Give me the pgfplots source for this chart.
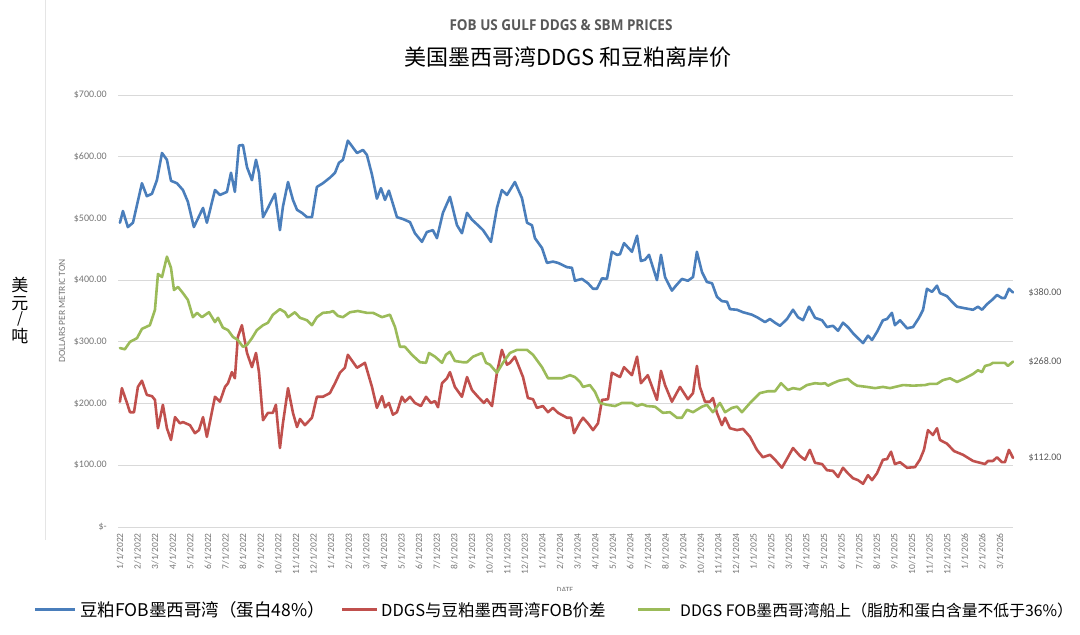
\documentclass[border=0pt]{standalone}
\usepackage{pgfplots}
\pgfplotsset{compat=1.18}
\usepackage{fontspec}
\setmainfont{Carlito}
\newfontfamily\cjk{Noto Sans CJK SC}
\newfontfamily\ttlfont{Open Sans}

\definecolor{sbmblue}{RGB}{74,126,187}
\definecolor{sprdred}{RGB}{192,80,77}
\definecolor{ddgsgreen}{RGB}{155,187,89}
\definecolor{tickgray}{RGB}{118,118,118}
\definecolor{titlegray}{RGB}{89,89,89}

\begin{document}
\begin{tikzpicture}[x=1pt,y=1pt]
\path[use as bounding box] (0,0) rectangle (1080,635);
\draw[black!10, line width=0.8pt] (45,95) -- (45,635);

\node[font=\ttlfont\bfseries\fontsize{15}{18}\selectfont, text=titlegray, xscale=0.9] at (561,610) {FOB US GULF DDGS \& SBM PRICES};
\node[font=\cjk\fontsize{22}{26}\selectfont] at (568,578) {美国墨西哥湾DDGS 和豆粕离岸价};

% vertical unit label
\node[font=\cjk\fontsize{17}{20}\selectfont, inner sep=0pt] at (20,350) {美};
\node[font=\cjk\fontsize{17}{20}\selectfont, inner sep=0pt] at (20,331) {元};
\node[font=\cjk\fontsize{15}{18}\selectfont, inner sep=0pt] at (20,316) {/};
\node[font=\cjk\fontsize{17}{20}\selectfont, inner sep=0pt] at (20,299) {吨};
\node[rotate=90, font=\fontsize{9.5}{11}\selectfont, text=tickgray] at (62,324) {DOLLARS PER METRIC TON};

\begin{scope}
\clip (500,44) rectangle (620,60);
\node[font=\fontsize{8}{9}\selectfont, text=tickgray] at (565,45) {DATE};
\end{scope}

\begin{axis}[
  at={(118pt,108pt)}, anchor=south west,
  scale only axis, width=895pt, height=432pt,
  xmin=-0.11, xmax=50.74, ymin=0, ymax=700,
  axis line style={draw=none},
  major tick length=0pt,
  ymajorgrids, grid style={draw=black!15, line width=0.8pt},
  ytick={0,100,...,700},
  yticklabels={\$-,\$100.00,\$200.00,\$300.00,\$400.00,\$500.00,\$600.00,\$700.00},
  yticklabel style={font=\fontsize{10}{12}\selectfont, text=tickgray, inner xsep=11pt, inner ysep=0pt},
  xtick={0,...,50},
  xticklabels={1/1/2022,2/1/2022,3/1/2022,4/1/2022,5/1/2022,6/1/2022,7/1/2022,8/1/2022,9/1/2022,10/1/2022,11/1/2022,12/1/2022,
    1/1/2023,2/1/2023,3/1/2023,4/1/2023,5/1/2023,6/1/2023,7/1/2023,8/1/2023,9/1/2023,10/1/2023,11/1/2023,12/1/2023,
    1/1/2024,2/1/2024,3/1/2024,4/1/2024,5/1/2024,6/1/2024,7/1/2024,8/1/2024,9/1/2024,10/1/2024,11/1/2024,12/1/2024,
    1/1/2025,2/1/2025,3/1/2025,4/1/2025,5/1/2025,6/1/2025,7/1/2025,8/1/2025,9/1/2025,10/1/2025,11/1/2025,12/1/2025,
    1/1/2026,2/1/2026,3/1/2026},
  xticklabel style={rotate=90, anchor=east, font=\fontsize{9.5}{11}\selectfont, text=tickgray, inner xsep=6pt, inner ysep=0pt},
  clip=false,
  every axis plot/.append style={line width=2.6pt, line join=round, line cap=round},
]
% SBM FOB US Gulf
\addplot[sbmblue] table {
0 493
0.17 512
0.45 486
0.74 493
1.25 557
1.53 536
1.82 540
2.10 562
2.39 606
2.67 595
2.90 561
3.24 557
3.58 546
3.86 527
4.20 486
4.72 517
4.94 493
5.40 546
5.68 538
6.08 543
6.31 574
6.53 543
6.76 618
6.99 619
7.22 583
7.50 562
7.73 595
7.90 574
8.13 502
8.41 517
8.81 540
9.09 481
9.26 519
9.55 559
9.83 530
10.06 514
10.34 509
10.63 502
10.91 502
11.19 551
11.53 557
11.93 566
12.22 574
12.44 590
12.67 595
12.95 626
13.47 606
13.81 611
14.03 603
14.32 571
14.60 532
14.83 549
15.06 530
15.28 545
15.74 502
16.08 499
16.48 494
16.76 476
17.16 462
17.44 478
17.78 481
18.01 468
18.35 509
18.75 535
19.15 489
19.43 476
19.72 509
20.00 498
20.34 489
20.63 481
21.08 462
21.42 517
21.70 546
21.99 538
22.44 559
22.84 533
23.13 493
23.41 489
23.58 468
23.98 452
24.26 428
24.60 430
24.89 428
25.40 421
25.68 420
25.85 399
26.25 402
26.59 395
26.88 386
27.10 386
27.39 403
27.67 402
27.95 446
28.24 441
28.41 442
28.64 460
29.09 446
29.38 472
29.60 431
29.83 433
30.06 441
30.51 400
30.74 441
30.97 405
31.36 383
31.59 391
31.93 402
32.27 399
32.56 405
32.78 446
33.07 413
33.35 397
33.64 395
33.92 373
34.20 366
34.49 365
34.66 353
35.06 352
35.40 348
35.91 344
36.25 339
36.65 332
36.93 337
37.22 331
37.50 326
37.90 337
38.24 352
38.52 340
38.81 335
39.15 357
39.49 339
39.89 335
40.17 324
40.51 326
40.80 318
41.08 331
41.36 324
41.65 314
41.93 306
42.22 298
42.50 310
42.73 303
43.01 316
43.35 335
43.58 337
43.86 347
44.03 327
44.32 335
44.72 322
45.06 324
45.40 339
45.63 352
45.85 386
46.14 381
46.42 391
46.59 379
46.99 374
47.27 365
47.56 357
47.90 355
48.47 352
48.75 357
48.98 352
49.26 361
49.55 368
49.83 376
50.11 371
50.28 371
50.51 386
50.74 380
};
% DDGS - SBM spread
\addplot[sprdred] table {
0 203
0.11 225
0.40 201
0.57 186
0.80 186
1.02 227
1.25 237
1.53 214
1.82 212
1.99 206
2.16 160
2.44 198
2.67 160
2.90 141
3.13 178
3.41 168
3.58 170
3.98 165
4.26 152
4.49 157
4.72 178
4.94 146
5.40 211
5.68 203
5.97 227
6.14 233
6.36 251
6.53 241
6.70 308
6.93 327
7.22 282
7.50 259
7.73 282
7.90 251
8.13 173
8.41 185
8.69 185
8.86 198
9.09 128
9.26 168
9.55 225
9.83 185
10.06 162
10.23 175
10.51 165
10.91 177
11.19 211
11.53 211
11.93 217
12.22 233
12.50 250
12.78 258
12.95 279
13.47 258
13.92 266
14.32 227
14.60 193
14.89 212
15.06 194
15.28 201
15.51 182
15.74 186
16.02 211
16.19 203
16.48 211
16.76 201
17.10 196
17.39 211
17.67 201
17.90 204
18.07 194
18.30 233
18.58 241
18.75 251
19.03 227
19.43 211
19.72 243
20.00 222
20.34 211
20.68 201
20.85 207
21.14 196
21.42 250
21.70 287
21.99 263
22.16 266
22.44 276
22.90 243
23.18 209
23.47 207
23.69 193
24.03 196
24.32 186
24.60 193
24.89 185
25.40 177
25.63 177
25.80 152
26.14 170
26.31 177
26.59 168
26.88 157
27.16 168
27.39 206
27.73 207
27.95 250
28.41 243
28.64 259
29.09 246
29.38 276
29.60 233
29.99 246
30.51 206
30.74 253
30.97 230
31.36 203
31.82 227
32.27 207
32.56 217
32.78 261
32.95 227
33.24 203
33.52 203
33.69 209
33.92 185
34.20 165
34.38 177
34.66 160
35.06 157
35.40 159
35.80 146
36.19 125
36.53 113
36.93 117
37.22 109
37.61 96
37.95 113
38.24 128
38.64 115
38.92 109
39.20 125
39.49 104
39.89 102
40.17 92
40.51 91
40.80 81
41.08 96
41.36 87
41.65 79
41.93 76
42.22 70
42.50 84
42.73 76
43.01 87
43.35 109
43.58 110
43.81 122
44.03 102
44.32 105
44.72 96
45.17 97
45.45 109
45.68 125
45.91 157
46.19 149
46.42 160
46.59 141
46.99 135
47.39 123
47.90 117
48.47 107
49.15 102
49.32 107
49.60 107
49.83 113
50.11 105
50.28 105
50.51 125
50.74 112
};
% DDGS FOB US Gulf
\addplot[ddgsgreen] table {
0 290
0.28 288
0.57 300
0.97 306
1.25 321
1.70 327
1.99 352
2.16 410
2.39 405
2.67 438
2.90 420
3.07 384
3.30 389
3.58 379
3.86 368
4.15 340
4.38 347
4.66 340
5.06 348
5.40 332
5.57 339
5.85 323
6.14 319
6.42 308
6.70 303
6.99 292
7.22 295
7.50 306
7.78 319
8.13 327
8.41 331
8.69 344
9.09 353
9.38 348
9.55 340
9.94 348
10.23 339
10.63 335
10.91 327
11.19 340
11.53 347
11.93 348
12.10 350
12.39 342
12.67 340
13.07 348
13.52 350
14.03 347
14.38 347
14.89 340
15.34 344
15.63 324
15.91 292
16.19 292
16.59 279
17.05 267
17.39 266
17.56 282
17.90 276
18.30 266
18.52 279
18.75 284
19.03 269
19.49 267
19.72 267
20.06 276
20.57 282
20.80 266
21.02 263
21.42 250
21.76 266
22.16 282
22.56 287
23.13 287
23.47 279
23.98 259
24.32 241
24.83 241
25.11 241
25.57 246
25.85 243
26.14 235
26.31 227
26.70 230
26.99 219
27.27 201
27.67 198
28.13 196
28.52 201
29.09 201
29.38 196
29.66 199
29.94 196
30.40 195
30.85 185
31.25 186
31.65 177
31.93 177
32.22 190
32.56 186
33.07 195
33.35 198
33.69 186
34.09 201
34.38 186
34.77 193
35.06 195
35.34 186
35.80 201
36.36 217
36.82 220
37.22 220
37.56 233
37.95 222
38.24 225
38.64 223
39.03 230
39.49 233
39.83 232
40.06 233
40.23 229
40.51 233
40.85 237
41.36 240
41.65 233
41.88 229
42.44 227
42.90 225
43.35 227
43.75 225
44.49 230
45.06 229
45.74 230
46.02 232
46.42 232
46.76 238
47.16 241
47.56 235
48.01 241
48.47 248
48.75 254
48.98 251
49.15 261
49.43 263
49.60 266
50.00 266
50.28 266
50.45 261
50.74 268
};
\node[anchor=west, font=\fontsize{10}{12}\selectfont, text=titlegray] at (axis cs:50.74,380) [xshift=12pt] {\$380.00};
\node[anchor=west, font=\fontsize{10}{12}\selectfont, text=titlegray] at (axis cs:50.74,268) [xshift=12pt] {\$268.00};
\node[anchor=west, font=\fontsize{10}{12}\selectfont, text=titlegray] at (axis cs:50.74,112) [xshift=12pt] {\$112.00};
\end{axis}

% legend
\draw[sbmblue, line width=3pt] (35,25) -- (75,25);
\node[anchor=west, inner sep=0pt, font=\cjk\fontsize{17.5}{20}\selectfont] at (80,25) {豆粕FOB墨西哥湾（蛋白48\%）};
\draw[sprdred, line width=3pt] (342,25) -- (377,25);
\node[anchor=west, inner sep=0pt, font=\cjk\fontsize{16.5}{20}\selectfont] at (381,25) {DDGS与豆粕墨西哥湾FOB价差};
\draw[ddgsgreen, line width=3pt] (638,25) -- (670,25);
\node[anchor=west, inner sep=0pt, font=\cjk\fontsize{15.8}{20}\selectfont] at (680,25) {DDGS FOB墨西哥湾船上（脂肪和蛋白含量不低于36\%）};
\end{tikzpicture}
\end{document}
